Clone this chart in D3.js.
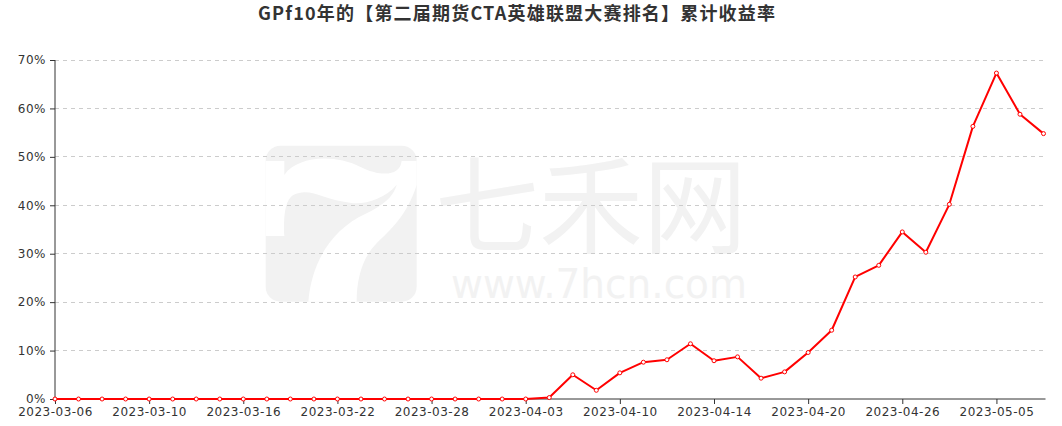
<!DOCTYPE html>
<html>
<head>
<meta charset="utf-8">
<script src="https://cdn.jsdelivr.net/npm/d3@7"></script>
<style>
  html, body { margin: 0; padding: 0; background: #fff; }
  svg { display: block; }
</style>
</head>
<body>
<svg id="chart" width="1062" height="426"></svg>
<script>
const titleText = "GPf10年的【第二届期货CTA英雄联盟大赛排名】累计收益率";

const dates = [
  "2023-03-06","2023-03-07","2023-03-08","2023-03-09","2023-03-10",
  "2023-03-13","2023-03-14","2023-03-15","2023-03-16","2023-03-17",
  "2023-03-20","2023-03-21","2023-03-22","2023-03-23","2023-03-24",
  "2023-03-27","2023-03-28","2023-03-29","2023-03-30","2023-03-31",
  "2023-04-03","2023-04-04","2023-04-06","2023-04-07","2023-04-10",
  "2023-04-11","2023-04-12","2023-04-13","2023-04-14","2023-04-17",
  "2023-04-18","2023-04-19","2023-04-20","2023-04-21","2023-04-24",
  "2023-04-25","2023-04-26","2023-04-27","2023-04-28","2023-05-04",
  "2023-05-05","2023-05-08","2023-05-09"
];

const returns = [
  0,0,0,0,0,
  0,0,0,0,0,
  0,0,0,0,0,
  0,0,0,0,0,
  0,0.3,5.0,1.8,5.4,
  7.6,8.1,11.4,7.9,8.7,
  4.3,5.6,9.6,14.2,25.2,
  27.6,34.5,30.3,40.2,56.3,
  67.3,58.8,54.8
];

const xTickLabels = ["2023-03-06","2023-03-10","2023-03-16","2023-03-22","2023-03-28",
  "2023-04-03","2023-04-10","2023-04-14","2023-04-20","2023-04-26","2023-05-05"];
const yTicks = [0,10,20,30,40,50,60,70];

const svg = d3.select("#chart");
const pLeft = 55, pRight = 1043.5, pTop = 60, pBottom = 399;

const x = d3.scalePoint().domain(dates).range([pLeft, pRight]);
const y = d3.scaleLinear().domain([0, 70]).range([pBottom, pTop]);

// watermark
const wm = svg.append("g").attr("class", "watermark");
const logo = wm.append("g").attr("transform", "translate(250,130) scale(0.3333)");
logo.append("rect").attr("x", 47).attr("y", 47).attr("width", 453).attr("height", 468)
  .attr("rx", 45).attr("fill", "#f2f2f2");
logo.append("path").attr("fill", "#fff")
  .attr("d", "M47,93 L103,93 L103,135 C140,80 250,70 330,110 C390,140 450,140 455,93 L500,93 L500,165 L440,165 C400,210 340,225 300,218 C220,210 180,170 130,195 C105,210 100,260 103,318 L47,318 Z");
logo.append("path").attr("fill", "#fff")
  .attr("d", "M440,165 L500,165 C470,260 420,300 380,340 C340,380 320,440 320,515 L175,515 C185,400 240,300 350,250 C400,225 430,200 440,165 Z");
wm.append("text").attr("x", 435).attr("y", 245).attr("fill", "#f2f2f2")
  .attr("font-family", "'Noto Sans CJK SC'").attr("font-size", 106)
  .attr("textLength", 312).attr("lengthAdjust", "spacingAndGlyphs")
  .text("七禾网");
wm.append("text").attr("x", 451).attr("y", 298).attr("fill", "#f2f2f2")
  .attr("font-family", "'DejaVu Sans'").attr("font-size", 40)
  .attr("textLength", 296).attr("lengthAdjust", "spacingAndGlyphs")
  .text("www.7hcn.com");

// grid lines
svg.append("g").selectAll("line").data(yTicks.filter(d => d > 0)).join("line")
  .attr("x1", pLeft).attr("x2", pRight)
  .attr("y1", d => y(d)).attr("y2", d => y(d))
  .attr("stroke", "#ccc").attr("stroke-dasharray", "4,4").attr("stroke-width", 1)
  .attr("shape-rendering", "crispEdges");

// axes
const fontFam = "'DejaVu Sans', sans-serif";
const yAxis = svg.append("g").attr("transform", `translate(${pLeft},0)`)
  .call(d3.axisLeft(y).tickValues(yTicks).tickSize(5).tickPadding(4).tickFormat(d => d + "%"));
const xAxis = svg.append("g").attr("transform", `translate(0,${pBottom})`)
  .call(d3.axisBottom(x).tickValues(xTickLabels).tickSize(5).tickPadding(3).tickSizeOuter(0));
[yAxis, xAxis].forEach(ax => {
  ax.select(".domain").attr("stroke", "#333");
  ax.selectAll(".tick line").attr("stroke", "#333");
  ax.selectAll("text").attr("fill", "#333").attr("font-family", fontFam).attr("font-size", 12)
    .attr("letter-spacing", "0.5px");
});
yAxis.select(".domain").attr("d", `M0,${pTop}V${pBottom}`);
xAxis.select(".domain").attr("d", `M${pLeft},0H${pRight + 2}`);

// line
const line = d3.line().x((d, i) => x(dates[i])).y(d => y(d));
svg.append("path").datum(returns)
  .attr("fill", "none").attr("stroke", "#ff0000").attr("stroke-width", 2)
  .attr("stroke-linejoin", "round")
  .attr("d", line);
svg.append("g").selectAll("circle").data(returns).join("circle")
  .attr("cx", (d, i) => x(dates[i])).attr("cy", d => y(d)).attr("r", 2)
  .attr("fill", "#fff").attr("stroke", "#ff0000").attr("stroke-width", 1);

// title
svg.append("text").attr("x", 516.5).attr("y", 20).attr("text-anchor", "middle")
  .attr("font-family", "'Noto Sans CJK SC'").attr("font-weight", "bold")
  .attr("font-size", 18).attr("fill", "#333")
  .attr("textLength", 517).attr("lengthAdjust", "spacing")
  .text(titleText);
</script>
</body>
</html>
